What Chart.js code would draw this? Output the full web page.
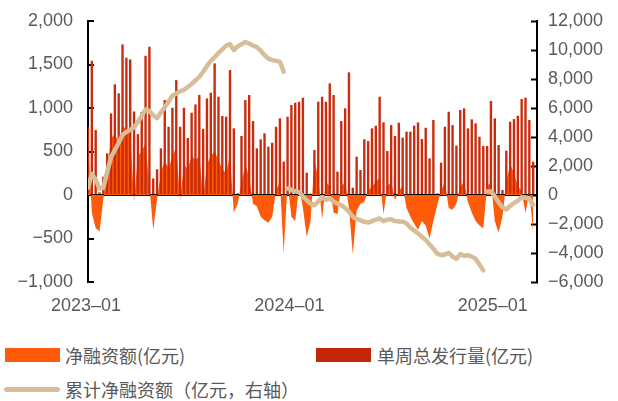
<!DOCTYPE html>
<html>
<head>
<meta charset="utf-8">
<script src="https://cdn.jsdelivr.net/npm/chart.js@4.4.1/dist/chart.umd.min.js"></script>
<style>
  body { margin: 0; background: #fff; width: 618px; height: 401px; overflow: hidden; position: relative;
         font-family: "Noto Sans CJK SC", "Liberation Sans", sans-serif; }
  #wrap { position: absolute; left: 0; top: 0; width: 618px; height: 330px; }
  .leg { position: absolute; font-size: 18px; color: #595959; line-height: 22px; white-space: nowrap; }
  .box { position: absolute; width: 55px; height: 14px; }
  .ln { position: absolute; width: 56px; height: 5px; border-radius: 3px; }
</style>
</head>
<body>
<div id="wrap"><canvas id="myChart"></canvas></div>

<div class="box" style="left:5px;top:348px;background:#FF5A0A"></div>
<div class="leg" style="left:65px;top:344px">净融资额(亿元)</div>
<div class="box" style="left:316px;top:348px;background:#C4260A"></div>
<div class="leg" style="left:377px;top:344px">单周总发行量(亿元)</div>
<div class="ln" style="left:4px;top:387px;background:#D8BE98"></div>
<div class="leg" style="left:65px;top:378px">累计净融资额（亿元，右轴）</div>

<script>
// weekly data, 2023-01 .. 2025-03 (index = week number)
const issuance = [
  780, 1543, 747, 30, 210, 479, 938, 1272, 1168, 1731,
  1578, 1559, 960, 700, 955, 1600, 1705, 190, 295, 536,
  1091, 785, 1003, 1321, 785, 1003, 655, 946, 1041, 1150,
  760, 1111, 1176, 1513, 1130, 908, 900, 1436, 766, 20,
  678, 1091, 1149, 850, 536, 640, 709, 555, 601, 785,
  881, 383, 900, 1034, 1061, 1072, 1118, 256, 15, 517,
  1072, 1130, 1072, 1283, 1149, 268, 850, 996, 1410, 84,
  440, 287, 640, 620, 766, 796, 1130, 835, 506, 804,
  678, 831, 659, 728, 728, 796, 835, 643, 773, 421,
  862, 20, 371, 785, 957, 804, 567, 977, 996, 766,
  870, 823, 670, 563, 563, 1080, 881, 574, 57, 509,
  842, 873, 911, 1103, 1118, 862, 383
];

const netFinancing = [
  650, -200, -380, -420, -50, 300, 650, 700, 600, 800,
  750, 700, -80, 450, 500, 600, 100, -400, -50, 250,
  400, 300, 450, 550, -60, 350, 300, 450, 400, 450,
  -30, 350, 450, 500, 400, 300, 250, 450, -200, -100,
  150, 350, 200, -100, -130, -250, -290, -320, -250, 50,
  150, -670, 150, -250, -300, 100, -150, -480, -300, 400,
  200, -280, 150, 100, -200, -220, 100, 150, -150, -680,
  -180, -100, -80, 50, 100, 150, 200, -220, 100, 150,
  -60, 50, 100, -150, -250, -330, -400, -300, -350, -500,
  -300, -120, 50, 150, -150, -170, -100, 100, 150, -80,
  -200, -300, -350, -383, 100, 150, -300, -430, -250, 150,
  360, 250, 100, 50, -210, 50, -440
];

// cumulative net financing (right axis), restarts every year
const cumulative = [
  500, 1450, 1050, 450, 500, 1600, 2600, 3100, 3600, 4150,
  4350, 4500, 4650, 5050, 5450, 5900, 5800, 5500, 5300, 5700,
  6050, 6450, 6850, 7000, 7150, 7250, 7450, 7650, 7900, 8150,
  8500, 8900, 9250, 9500, 9800, 10050, 10300, 10400, 10000, 10250,
  10400, 10550, 10450, 10300, 10200, 9950, 9650, 9400, 9300, 9250,
  9200, 8500, 450, 350, 250, 200, -100, -350, -600, -700,
  -450, -150, -330, -230, -450, -600, -700, -900, -1150, -1500,
  -1650, -1750, -1850, -1900, -1800, -1700, -1620, -1800, -1700, -1680,
  -1800, -1820, -1840, -1950, -2250, -2450, -2650, -2880, -3100, -3400,
  -3700, -4050, -4150, -4100, -3980, -4250, -4400, -4080, -4200, -4150,
  -4250, -4400, -4800, -5200, 250, 250, -100, -500, -850, -1000,
  -750, -550, -400, -150, -200, -250, -700
];

const yearStart = [0, 52, 104];

const xTickLabels = ['2023\u201301', '2024\u201301', '2025\u201301'];
const xTickWeek = [0, 53, 106];

const fmt = v => (v < 0 ? '\u2212' : '') + Math.abs(v).toLocaleString('en-US');
const toPoints = arr => arr.map((v, i) => ({ x: i, y: v }));

const TAN = '#D8BE98';
const tickFont = { family: 'Liberation Sans', size: 18 };

// y axes: fixed width, and no extra top/bottom room from the tick padding
const fixY = w => s => { s.width = w; s.paddingTop = 0; s.paddingBottom = 0; };

const ctx = document.getElementById('myChart');

new Chart(ctx, {
  type: 'bar',
  data: {
    datasets: [
      {
        type: 'line',
        label: '累计净融资额（亿元，右轴）',
        data: toPoints(cumulative),
        yAxisID: 'y1',
        borderColor: TAN,
        borderWidth: 4.5,
        borderCapStyle: 'round',
        borderJoinStyle: 'round',
        pointRadius: 0,
        fill: false,
        order: 0,
        segment: {
          borderColor: c => yearStart.includes(c.p1DataIndex) ? 'rgba(0,0,0,0)' : TAN
        }
      },
      {
        type: 'bar',
        label: '单周总发行量(亿元)',
        data: toPoints(issuance),
        yAxisID: 'y',
        backgroundColor: '#C92B0C',
        barPercentage: 0.62,
        categoryPercentage: 1,
        order: 1
      },
      {
        type: 'line',
        label: '净融资额(亿元)',
        data: toPoints(netFinancing),
        yAxisID: 'y',
        backgroundColor: '#FF5A0A',
        borderWidth: 0,
        pointRadius: 0,
        fill: 'origin',
        order: 2
      }
    ]
  },
  options: {
    responsive: true,
    maintainAspectRatio: false,
    animation: false,
    layout: { padding: { top: 21, left: 0, right: 0, bottom: 0 } },
    plugins: { legend: { display: false }, tooltip: { enabled: false } },
    scales: {
      x: {
        type: 'linear',
        min: 0,
        max: 117,
        offset: false,
        afterBuildTicks: s => { s.ticks = xTickWeek.map(v => ({ value: v })); },
        afterFit: s => { s.height = 48; },
        ticks: {
          autoSkip: false,
          maxRotation: 0,
          labelOffset: -2,
          padding: 13,
          color: '#595959',
          font: tickFont,
          callback: (v, i) => xTickLabels[i]
        },
        grid: { display: false, drawTicks: false },
        border: { display: false }
      },
      y: {
        position: 'left',
        min: -1000,
        max: 2000,
        afterFit: fixY(88),
        ticks: { stepSize: 500, padding: 21, color: '#595959', font: tickFont, callback: fmt },
        grid: {
          drawOnChartArea: true,
          color: c => (c.tick && c.tick.value === 0) ? '#000' : 'rgba(0,0,0,0)',
          lineWidth: c => (c.tick && c.tick.value === 0) ? 2 : 0,
          tickLength: -6,
          tickColor: '#000',
          tickWidth: 2
        },
        border: { color: '#000', width: 2 }
      },
      y1: {
        position: 'right',
        min: -6000,
        max: 12000,
        afterFit: fixY(81),
        ticks: { stepSize: 2000, padding: 17, color: '#595959', font: tickFont, callback: fmt },
        grid: { drawOnChartArea: false, tickLength: -6, tickColor: '#000', tickWidth: 2 },
        border: { color: '#000', width: 2 }
      }
    }
  }
});
</script>
</body>
</html>
